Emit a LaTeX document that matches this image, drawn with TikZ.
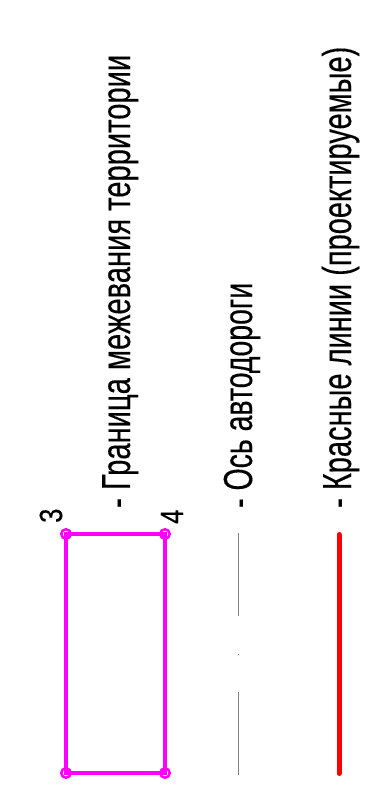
\documentclass[tikz,border=0pt]{standalone}
\usepackage{graphicx}
\usepackage{fontspec}
\setmainfont{Liberation Sans}
\newfontfamily\legfont{Liberation Sans}[FakeBold=0.35]
\definecolor{bndmag}{RGB}{255,0,255}
\definecolor{axgray}{RGB}{128,128,128}
\definecolor{redl}{RGB}{255,0,0}
\begin{document}
\begin{tikzpicture}[x=1pt,y=-1pt,
  legtext/.style={rotate=90,anchor=base west,inner sep=0pt,font=\legfont\fontsize{40.5}{40}\selectfont},
  numtext/.style={rotate=90,anchor=base west,inner sep=0pt,font=\legfont\fontsize{32}{32}\selectfont},
  bnd/.style={draw=bndmag,line width=3.5pt},
  vtx/.style={circle,draw=bndmag,line width=2.5pt,minimum size=9.5pt,inner sep=0pt},
  axisline/.style={draw=axgray,line width=1pt},
  redline/.style={draw=redl,line width=5pt,line cap=round}]
\useasboundingbox (0,0) rectangle (382,811);
\fill[white] (0,0) rectangle (382,811);
% boundary rectangle
\coordinate (c1) at (66,534);
\coordinate (c2) at (165,534);
\coordinate (c3) at (165,773);
\coordinate (c4) at (66,773);
\draw[bnd] (c1) -- (c2) -- (c3) -- (c4) -- cycle;
\node[vtx] (v1) at (c1) {};
\node[vtx] (v2) at (c2) {};
\node[vtx] (v3) at (c3) {};
\node[vtx] (v4) at (c4) {};
\node[numtext] (n3) at (62,523) {\scalebox{0.8}[1]{3}};
\node[numtext] (n4) at (183,524) {\scalebox{0.8}[1]{4}};
% road axis
\coordinate (a1) at (238,533);
\coordinate (a2) at (238,616);
\coordinate (a3) at (238,653.5);
\coordinate (a4) at (238,654.5);
\coordinate (a5) at (238,692);
\coordinate (a6) at (238,775);
\draw[axisline] (a1) -- (a2) (a3) -- (a4) (a5) -- (a6);
% red line
\coordinate (r1) at (339,534.5);
\coordinate (r2) at (339,773.5);
\draw[redline] (r1) -- (r2);
% legend texts
\node[legtext] (t1) at (130,508) {\resizebox{453pt}{\height}{- Граница межевания территории}};
\node[legtext] (t2) at (252,508) {\resizebox{225pt}{\height}{- Ось автодороги}};
\node[legtext] (t3) at (351,508) {\resizebox{461pt}{\height}{- Красные линии (проектируемые)}};
\end{tikzpicture}
\end{document}
